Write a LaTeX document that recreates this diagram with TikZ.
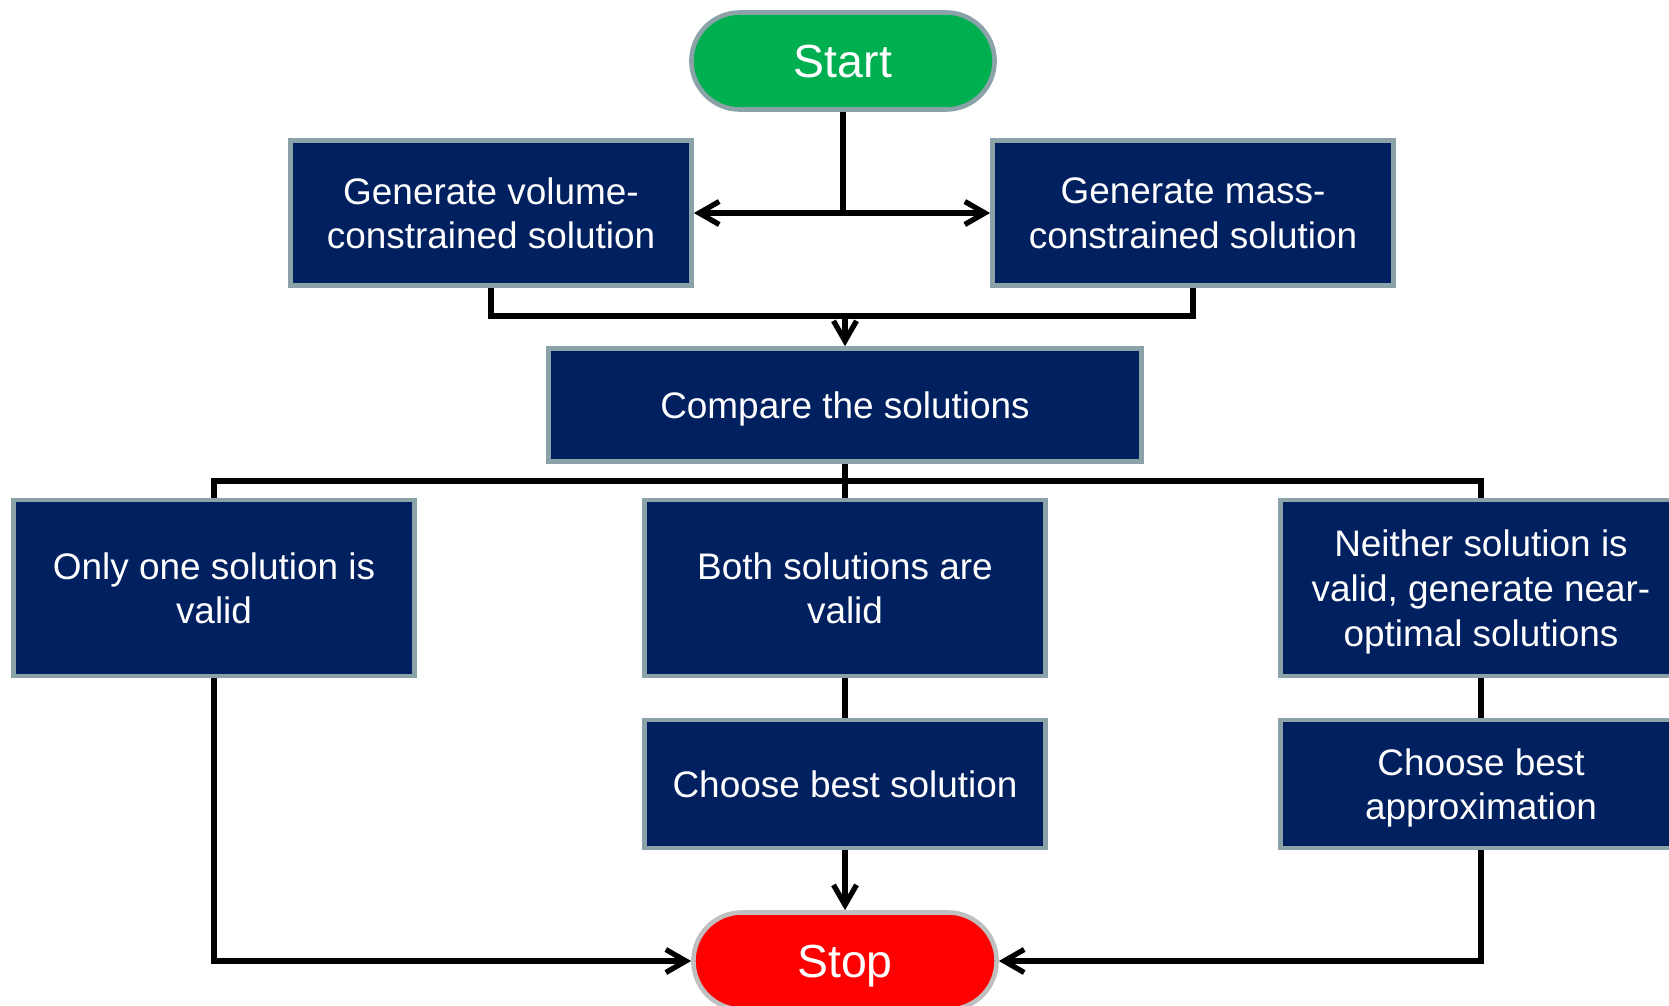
\documentclass[tikz,border=0pt]{standalone}
\usepackage{fontspec}
\setmainfont{Liberation Sans}
\usetikzlibrary{arrows.meta}
\definecolor{navy}{HTML}{002060}
\definecolor{edgegray}{HTML}{8BA3A8}
\definecolor{stopgray}{HTML}{BFBFBF}
\definecolor{startgreen}{HTML}{00B050}
\definecolor{stopred}{HTML}{FF0000}
\tikzset{
  box/.style={draw=edgegray, line width=1.3pt, fill=navy, text=white, align=center,
    minimum width=4.01cm, inner sep=0pt, text depth=0pt, font=\fontsize{10.5}{12.7}\selectfont},
  terminal/.style={draw=edgegray, line width=1.3pt, rounded corners=0.485cm, text depth=0pt,
    minimum width=3.03cm, minimum height=0.97cm, text=white, font=\fontsize{13.2}{15}\selectfont},
  link/.style={line width=1.5pt},
  flow/.style={line width=1.5pt, -{Straight Barb[length=2mm,width=2.3mm]}}
}
\begin{document}
\begin{tikzpicture}[x=0.01cm, y=-0.01cm]
    \clip (0,0) rectangle (1669,1006);

    % Define nodes
    \node[terminal, fill=startgreen] (start) at (843,61) {Start};
    \node[box, minimum height=1.45cm] (volume) at (491,213) {Generate volume-\\constrained solution};
    \node[box, minimum height=1.45cm] (mass) at (1193,213) {Generate mass-\\constrained solution};
    \node[box, minimum width=5.93cm, minimum height=1.13cm] (compare) at (845,405) {Compare the solutions};
    \node[box, minimum height=1.76cm] (one) at (214,588) {Only one solution is\\valid};
    \node[box, minimum height=1.76cm] (both) at (845,588) {Both solutions are\\valid};
    \node[box, minimum height=1.76cm] (neither) at (1481,588) {Neither solution is\\valid, generate near-\\optimal solutions};
    \node[box, minimum height=1.28cm] (best) at (845,784) {Choose best solution};
    \node[box, minimum height=1.28cm] (approx) at (1481,784) {Choose best\\approximation};
    \node[terminal, fill=stopred, draw=stopgray] (stop) at (845,961) {Stop};

    % Define junctions
    \coordinate (split) at (start.south |- volume.east);
    \coordinate (merge) at (compare.north |- 0,316);
    \coordinate (branch) at (compare.south |- 0,481);

    % Draw connectors
    \draw[link] (start) -- (split);
    \draw[flow] (split) -- (volume);
    \draw[flow] (split) -- (mass);
    \draw[link] (volume) |- (merge);
    \draw[link] (mass) |- (merge);
    \draw[flow] (merge) -- (compare);
    \draw[link] (compare) -- (branch);
    \draw[link] (one) |- (branch) -| (neither);
    \draw[link] (branch) -- (both);
    \draw[link] (both) -- (best);
    \draw[link] (neither) -- (approx);
    \draw[flow] (best) -- (stop);
    \draw[flow] (one) |- (stop);
    \draw[flow] (approx) |- (stop);
\end{tikzpicture}
\end{document}
